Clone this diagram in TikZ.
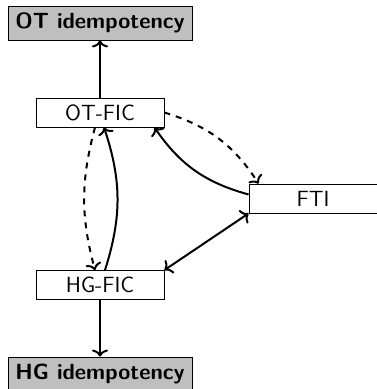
\documentclass[tikz,border=0pt]{standalone}
\usepackage{amsmath}
\usepackage{tikz}
\usetikzlibrary{arrows.meta}

\begin{document}
\begin{tikzpicture}[line width=1pt, >={To[length=3.5pt,width=8pt]},
  box/.style={draw, thin, minimum width=64pt, minimum height=14.5pt, inner sep=0pt, font=\fontsize{11}{13}\selectfont\sffamily},
  goal/.style={draw, thin, fill=gray!50, minimum width=92pt, minimum height=17pt, inner sep=0pt, font=\fontsize{11}{13}\selectfont\sffamily\bfseries}]
\useasboundingbox (0pt,0pt) rectangle (188pt,-194.5pt);
\node[goal] (otid) at (50pt,-11.5pt) {OT idempotency};
\node[box] (otfic) at (50pt,-56.25pt) {OT-FIC};
\node[box] (fti) at (156.5pt,-99.25pt) {FTI};
\node[box] (hgfic) at (50pt,-142.5pt) {HG-FIC};
\node[goal] (hgid) at (50pt,-187pt) {HG idempotency};
\draw[->] (otfic) -- (otid);
\draw[->] (hgfic) -- (hgid);
\draw[->,dashed] ([xshift=-2.5pt]otfic.south) to[bend right=15] ([xshift=-2.5pt]hgfic.north);
\draw[->] ([xshift=2.5pt]hgfic.north) to[bend right=18] ([xshift=2pt]otfic.south);
\draw[->,dashed] (otfic.east) to[bend left=20] ([xshift=5pt]fti.north west);
\draw[->] ([yshift=2pt]fti.west) to[bend left=20] ([xshift=-5pt]otfic.south east);
\draw[<->] (hgfic.north east) -- (fti.south west);
\end{tikzpicture}
\end{document}
